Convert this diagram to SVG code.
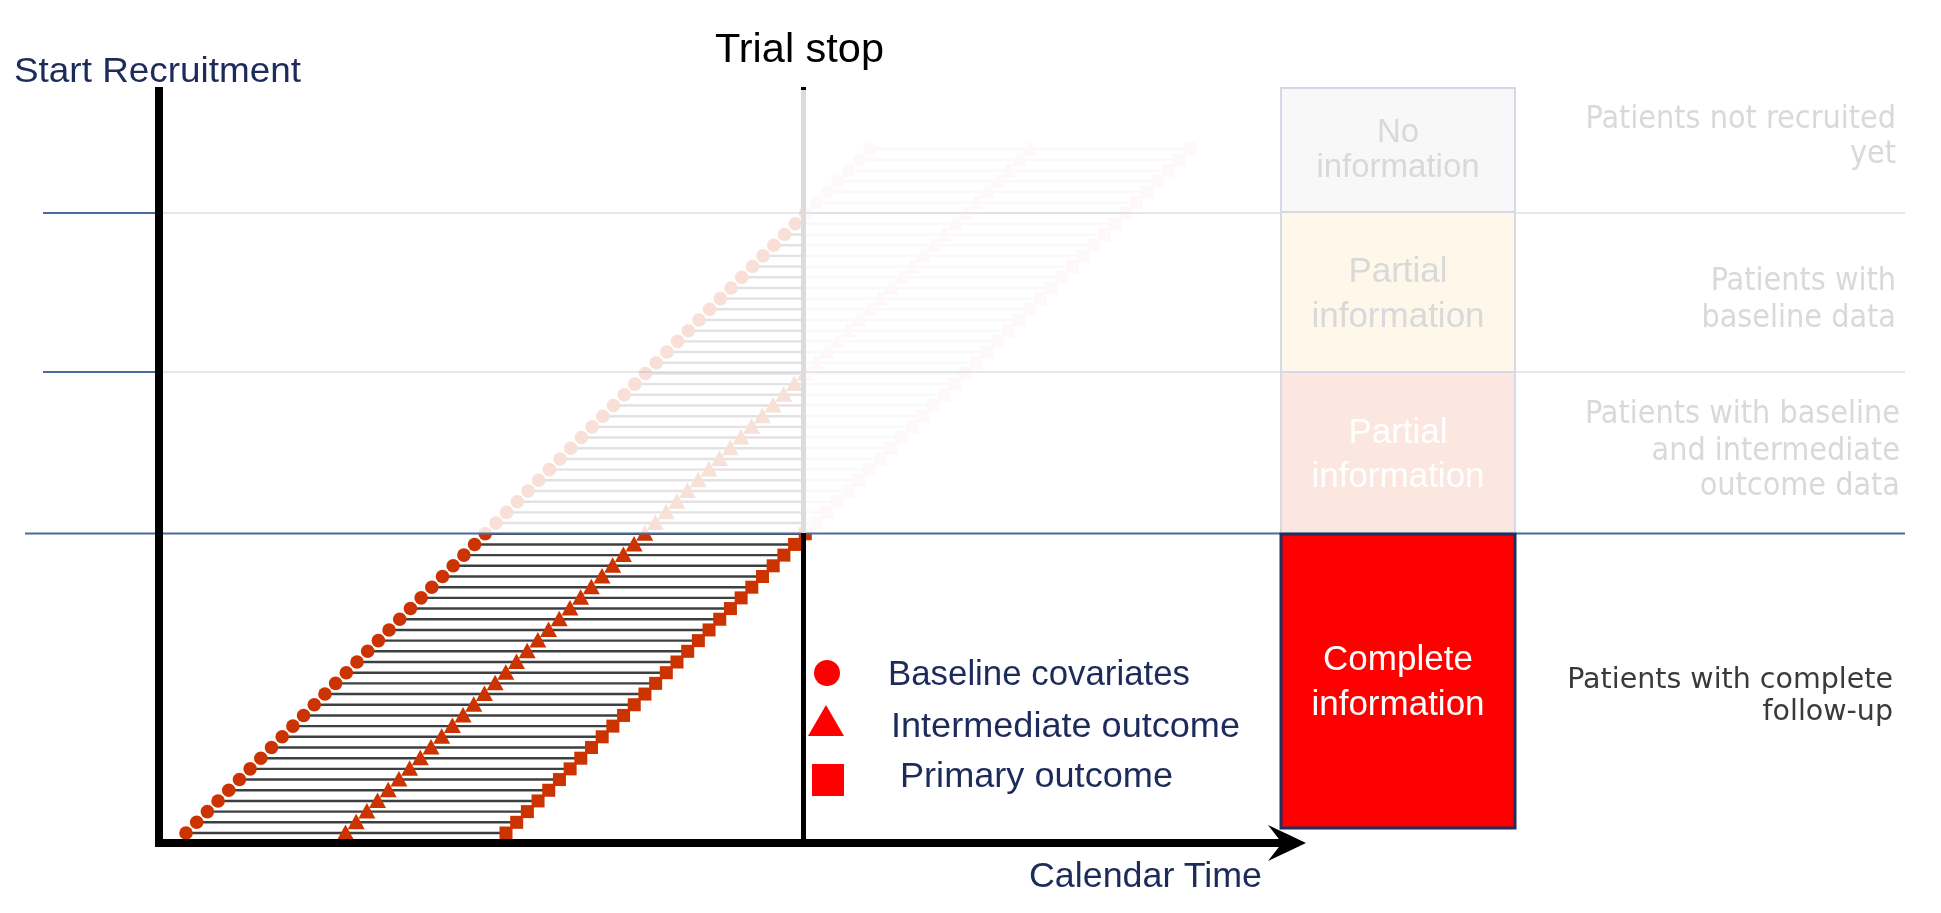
<svg xmlns="http://www.w3.org/2000/svg" width="1941" height="913" viewBox="0 0 1941 913">
<style>
.nv{font-family:"Liberation Sans",Arial,sans-serif;fill:#1c2b5a;font-size:35px}
.cb{font-family:"Liberation Sans",Arial,sans-serif;text-anchor:middle}
.dv{font-family:"DejaVu Sans",Verdana,sans-serif;font-size:28.5px;text-anchor:end}
.dc{font-family:"DejaVu Sans Condensed","DejaVu Sans",sans-serif;font-stretch:condensed;font-size:32px;text-anchor:end}
.fd{fill:#d9d9d9}
.mk{fill:#cc3300}
.rl{stroke:#3f3f3f;stroke-width:2.4}
.blu{stroke:#4a6aa0;stroke-width:2}
.fbl{stroke:#e3e8f0;stroke-width:2}
.fbox{stroke:#d3dae6;stroke-width:2}
</style>
<defs>
  <g id="row">
    <line class="rl" x1="0" y1="0" x2="320" y2="0"/>
    <circle class="mk" cx="0" cy="0" r="6.8"/>
    <polygon class="mk" points="159.5,-8.5 151,7 168,7"/>
    <rect class="mk" x="313.5" y="-6.5" width="13" height="13"/>
  </g>
  <g id="rows" transform="translate(186,833)">
    <use href="#row" x="0" y="0"/>
    <use href="#row" x="10.69" y="-10.69"/>
    <use href="#row" x="21.38" y="-21.38"/>
    <use href="#row" x="32.06" y="-32.06"/>
    <use href="#row" x="42.75" y="-42.75"/>
    <use href="#row" x="53.44" y="-53.44"/>
    <use href="#row" x="64.13" y="-64.13"/>
    <use href="#row" x="74.81" y="-74.81"/>
    <use href="#row" x="85.5" y="-85.5"/>
    <use href="#row" x="96.19" y="-96.19"/>
    <use href="#row" x="106.88" y="-106.88"/>
    <use href="#row" x="117.56" y="-117.56"/>
    <use href="#row" x="128.25" y="-128.25"/>
    <use href="#row" x="138.94" y="-138.94"/>
    <use href="#row" x="149.63" y="-149.63"/>
    <use href="#row" x="160.31" y="-160.31"/>
    <use href="#row" x="171" y="-171"/>
    <use href="#row" x="181.69" y="-181.69"/>
    <use href="#row" x="192.38" y="-192.38"/>
    <use href="#row" x="203.06" y="-203.06"/>
    <use href="#row" x="213.75" y="-213.75"/>
    <use href="#row" x="224.44" y="-224.44"/>
    <use href="#row" x="235.13" y="-235.13"/>
    <use href="#row" x="245.81" y="-245.81"/>
    <use href="#row" x="256.5" y="-256.5"/>
    <use href="#row" x="267.19" y="-267.19"/>
    <use href="#row" x="277.88" y="-277.88"/>
    <use href="#row" x="288.56" y="-288.56"/>
    <use href="#row" x="299.25" y="-299.25"/>
    <use href="#row" x="309.94" y="-309.94"/>
    <use href="#row" x="320.63" y="-320.63"/>
    <use href="#row" x="331.31" y="-331.31"/>
    <use href="#row" x="342" y="-342"/>
    <use href="#row" x="352.69" y="-352.69"/>
    <use href="#row" x="363.38" y="-363.38"/>
    <use href="#row" x="374.06" y="-374.06"/>
    <use href="#row" x="384.75" y="-384.75"/>
    <use href="#row" x="395.44" y="-395.44"/>
    <use href="#row" x="406.13" y="-406.13"/>
    <use href="#row" x="416.81" y="-416.81"/>
    <use href="#row" x="427.5" y="-427.5"/>
    <use href="#row" x="438.19" y="-438.19"/>
    <use href="#row" x="448.88" y="-448.88"/>
    <use href="#row" x="459.56" y="-459.56"/>
    <use href="#row" x="470.25" y="-470.25"/>
    <use href="#row" x="480.94" y="-480.94"/>
    <use href="#row" x="491.63" y="-491.63"/>
    <use href="#row" x="502.31" y="-502.31"/>
    <use href="#row" x="513" y="-513"/>
    <use href="#row" x="523.69" y="-523.69"/>
    <use href="#row" x="534.38" y="-534.38"/>
    <use href="#row" x="545.06" y="-545.06"/>
    <use href="#row" x="555.75" y="-555.75"/>
    <use href="#row" x="566.44" y="-566.44"/>
    <use href="#row" x="577.13" y="-577.13"/>
    <use href="#row" x="587.81" y="-587.81"/>
    <use href="#row" x="598.5" y="-598.5"/>
    <use href="#row" x="609.19" y="-609.19"/>
    <use href="#row" x="619.88" y="-619.88"/>
    <use href="#row" x="630.56" y="-630.56"/>
    <use href="#row" x="641.25" y="-641.25"/>
    <use href="#row" x="651.94" y="-651.94"/>
    <use href="#row" x="662.63" y="-662.63"/>
    <use href="#row" x="673.31" y="-673.31"/>
    <use href="#row" x="684" y="-684"/>
  </g>
  <clipPath id="cDark"><rect x="0" y="533" width="1941" height="380"/></clipPath>
  <clipPath id="cFadeL"><rect x="0" y="0" width="804" height="533"/></clipPath>
  <clipPath id="cFadeR"><rect x="804" y="0" width="1137" height="533"/></clipPath>
</defs>
<rect width="1941" height="913" fill="#ffffff"/>

<g id="dividers">
  <line class="blu" x1="43" y1="213" x2="158" y2="213"/>
  <line class="fbl" x1="160" y1="213" x2="1905" y2="213"/>
  <line class="blu" x1="43" y1="372" x2="158" y2="372"/>
  <line class="fbl" x1="160" y1="372" x2="1905" y2="372"/>
</g>

<g id="patients">
  <g clip-path="url(#cFadeR)" opacity="0.03"><use href="#rows"/></g>
  <g clip-path="url(#cFadeL)" opacity="0.15"><use href="#rows"/></g>
  <g clip-path="url(#cDark)"><use href="#rows"/></g>
</g>

<line class="blu" x1="25" y1="533.5" x2="1905" y2="533.5"/>

<g id="trial-stop">
  <line x1="803.5" y1="90" x2="803.5" y2="533" stroke="#dcdcdc" stroke-width="5"/>
  <line x1="803.5" y1="87" x2="803.5" y2="90" stroke="#000" stroke-width="5"/>
  <line x1="803.5" y1="533" x2="803.5" y2="843" stroke="#000" stroke-width="5"/>
  <text x="715" y="62" font-family="'Liberation Sans',Arial,sans-serif" font-size="41" fill="#000" textLength="169" lengthAdjust="spacingAndGlyphs">Trial stop</text>
</g>

<g id="axes">
  <rect x="155" y="87" width="8" height="760" fill="#000"/>
  <rect x="155" y="839" width="1130" height="8" fill="#000"/>
  <polygon points="1268,825 1306,843 1268,861 1282,843" fill="#000"/>
  <text class="nv" x="14" y="82" font-size="38" textLength="287" lengthAdjust="spacingAndGlyphs">Start Recruitment</text>
  <text class="nv" x="1029" y="887" textLength="233" lengthAdjust="spacingAndGlyphs">Calendar Time</text>
</g>

<g id="legend">
  <circle cx="827" cy="673" r="13" fill="#ff0000"/>
  <polygon points="826,705 808,736 844,736" fill="#ff0000"/>
  <rect x="812" y="764" width="32" height="32" fill="#ff0000"/>
  <text class="nv" x="888" y="685" textLength="302" lengthAdjust="spacingAndGlyphs">Baseline covariates</text>
  <text class="nv" x="891" y="737" textLength="349" lengthAdjust="spacingAndGlyphs">Intermediate outcome</text>
  <text class="nv" x="900" y="787" textLength="273" lengthAdjust="spacingAndGlyphs">Primary outcome</text>
</g>

<g id="box-no-info">
  <rect class="fbox" x="1281" y="88" width="234" height="124" fill="#f8f8f8"/>
  <text class="cb fd" x="1398" y="142" font-size="33">No</text>
  <text class="cb fd" x="1398" y="177" font-size="33">information</text>
</g>
<g id="box-partial-1">
  <rect class="fbox" x="1281" y="212" width="234" height="160" fill="#fff8ea"/>
  <text class="cb fd" x="1398" y="282" font-size="35">Partial</text>
  <text class="cb fd" x="1398" y="327" font-size="35">information</text>
</g>
<g id="box-partial-2">
  <rect class="fbox" x="1281" y="372" width="234" height="161" fill="#fbe7df"/>
  <text class="cb" x="1398" y="443" font-size="35" fill="#ffffff">Partial</text>
  <text class="cb" x="1398" y="487" font-size="35" fill="#ffffff">information</text>
</g>
<g id="box-complete">
  <rect x="1281" y="534" width="234" height="294" fill="#ff0000" stroke="#1f2f5f" stroke-width="3"/>
  <text class="cb" x="1398" y="670" font-size="35" fill="#ffffff">Complete</text>
  <text class="cb" x="1398" y="715" font-size="35" fill="#ffffff">information</text>
</g>

<g id="descriptions">
  <text class="dc fd" x="1896" y="128">Patients not recruited</text>
  <text class="dc fd" x="1896" y="163">yet</text>
  <text class="dc fd" x="1896" y="290">Patients with</text>
  <text class="dc fd" x="1896" y="327">baseline data</text>
  <text class="dc fd" x="1900" y="423">Patients with baseline</text>
  <text class="dc fd" x="1900" y="460">and intermediate</text>
  <text class="dc fd" x="1900" y="495">outcome data</text>
  <text class="dv" x="1893" y="688" fill="#3a3a3a">Patients with complete</text>
  <text class="dv" x="1893" y="720" fill="#3a3a3a">follow-up</text>
</g>
</svg>
